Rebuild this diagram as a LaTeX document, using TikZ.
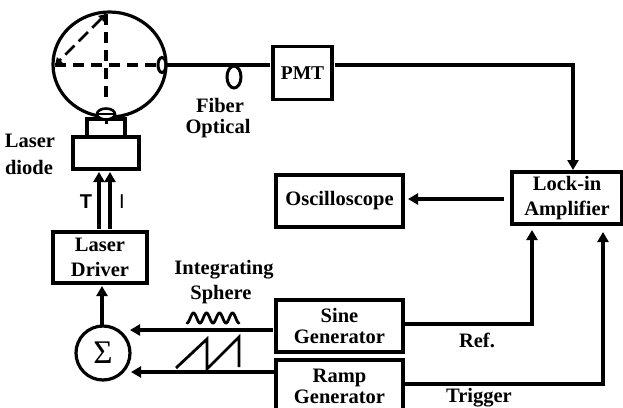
\documentclass[tikz,border=0pt]{standalone}
\usepackage{fontspec}
\setmainfont{Liberation Serif}
\newfontfamily\labelsans{Liberation Sans}
\usetikzlibrary{arrows.meta,shapes.geometric}
\tikzset{
  wire/.style={line width=3.4pt},
  flow/.style={line width=3.4pt,-{Triangle[length=10pt,width=11pt]}},
  block/.style={draw,line width=3.4pt,align=center,inner sep=0pt,outer sep=0pt,font=\bfseries\fontsize{20.5}{25}\selectfont},
  lbl/.style={inner sep=0pt,align=center,font=\bfseries\fontsize{20.5}{25}\selectfont},
  beam/.style={line width=3.2pt,dash pattern=on 11pt off 7pt}
}
\begin{document}
\begin{tikzpicture}[x=1pt,y=-1pt]
\path[clip] (0,0) rectangle (623,407);
% sphere
\node[draw,ellipse,line width=3.2pt,minimum width=113pt,minimum height=105pt,inner sep=0pt,outer sep=0pt] (sphere) at (109.5,64.5) {};
\node[draw,ellipse,line width=3pt,minimum width=8pt,minimum height=15pt,inner sep=0pt,outer sep=0pt] (port) at (162,65) {};
\node[draw,ellipse,line width=3pt,minimum width=14pt,minimum height=22pt,inner sep=0pt,outer sep=0pt] (loop) at (234,77) {};
\coordinate (top) at (106,14);
\coordinate (left) at (55,65);
\coordinate (bot) at (106,103);
\draw[beam] (left) -- (port.west);
\draw[beam] (top) -- (bot);
\draw[beam,dash pattern=on 13pt off 6pt,{Triangle[length=7pt,width=8pt]}-{Triangle[length=7pt,width=8pt]},line width=2.8pt] (top) -- (left);
% laser
\node[draw,fill=white,line width=3.2pt,minimum width=38pt,minimum height=18pt,outer sep=0pt] (mount) at (106,128) {};
\node[draw,line width=3.2pt,minimum width=66pt,minimum height=32pt,outer sep=0pt] (diode) at (106,153) {};
\node[draw,ellipse,fill=white,line width=2.6pt,minimum width=18pt,minimum height=11pt,inner sep=0pt,outer sep=0pt] (dome) at (106,114) {};
\draw[line width=2.6pt] (dome.west) -- (dome.east);
\draw[line width=3pt] (dome.south) -- +(0,-4pt);
% boxes
\node[block,minimum width=59pt,minimum height=53pt,font=\bfseries\fontsize{19.5}{20}\selectfont] (pmt) at (302.5,73) {PMT};
\node[block,minimum width=127pt,minimum height=52pt] (osc) at (339.5,201) {Oscilloscope};
\node[block,minimum width=110pt,minimum height=52pt] (lock) at (567,198) {Lock-in\\Amplifier};
\node[block,minimum width=127pt,minimum height=52pt,font=\bfseries\fontsize{20.5}{21}\selectfont] (sine) at (339.5,326) {Sine\\Generator};
\node[block,minimum width=127pt,minimum height=52pt,font=\bfseries\fontsize{20.5}{21}\selectfont] (ramp) at (339.5,386) {Ramp\\Generator};
\node[block,minimum width=94pt,minimum height=51pt] (driver) at (100,257.5) {Laser\\Driver};
\node[draw,circle,line width=3.2pt,minimum size=54pt,inner sep=0pt,outer sep=0pt,font=\fontsize{33}{33}\selectfont] (sum) at (103,353) {Σ};
% connectors
\draw[wire] (port.east) -- ([xshift=-3pt]pmt.west |- port.east);
\draw[flow] ([xshift=3pt]pmt.east |- port.east) -| ([xshift=6pt,yshift=2pt]lock.north);
\draw[flow] ([xshift=-8pt,yshift=-1pt]lock.west) -- ([xshift=5pt,yshift=2pt]osc.east);
\draw[flow] ([xshift=2pt,yshift=2pt]sine.east) -| ([xshift=-35pt,yshift=-6pt]lock.south);
\draw[flow] ([yshift=2pt]ramp.east) -| ([xshift=36pt,yshift=-8pt]lock.south);
\draw[flow] ([xshift=-3pt,yshift=-4pt]sine.west) -- ++(-143pt,0);
\draw[flow] ([xshift=-2pt,yshift=14pt]ramp.west) -- ++(-143pt,0);
\draw[flow] ([xshift=-1pt,yshift=1pt]sum.north) -- ([xshift=2pt,yshift=-3pt]driver.south);
\draw[flow] ([xshift=-1pt,yshift=3pt]driver.north) -- ([xshift=-7pt,yshift=-3pt]diode.south);
\draw[flow] ([xshift=10pt,yshift=3pt]driver.north) -- ([xshift=4pt,yshift=-3pt]diode.south);
% waveforms
\draw[line width=2.8pt,line cap=round] plot[domain=-90:1350,samples=120,smooth] ({187+0.03611*(\x+90)},{318-5*sin(\x)});
\draw[line width=2.8pt] (176,368) -- (207,339) -- (207,369) -- (239,337) -- (239,367);
% labels
\node[lbl] (fiber) at (220,105) {Fiber};
\node[lbl] (optical) at (218,129) {Optical};
\node[lbl] (laser) at (30,141) {Laser};
\node[lbl] (dio) at (29,167) {diode};
\node[lbl] (integ) at (224,270) {Integrating};
\node[lbl] (sph) at (221,295) {Sphere};
\node[lbl] (ref) at (477,340) {Ref.};
\node[lbl] (trig) at (479,398) {Trigger};
\node[inner sep=0pt,font=\labelsans\bfseries\fontsize{20}{20}\selectfont] (tlab) at (86,202) {T};
\node[inner sep=0pt,font=\labelsans\fontsize{20}{20}\selectfont] (ilab) at (122,202) {I};
\end{tikzpicture}
\end{document}
